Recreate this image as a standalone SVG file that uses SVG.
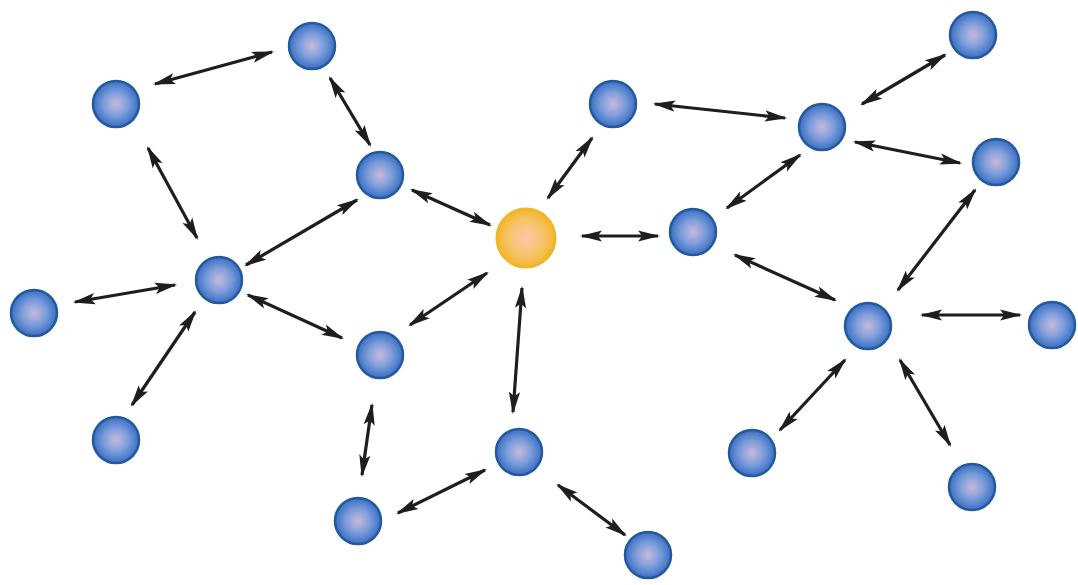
<svg xmlns="http://www.w3.org/2000/svg" width="1078" height="585" viewBox="0 0 1078 585">
<style>
.e{stroke:#1e1e1e;stroke-width:3.2;fill:none;marker-start:url(#ah);marker-end:url(#ah)}
.n{fill:url(#gb);stroke:#23599f;stroke-width:2.5}
.o{fill:url(#go);stroke:#f0b62a;stroke-width:3}
</style>
<defs>
<radialGradient id="gb" cx="0.5" cy="0.5" r="0.5">
<stop offset="0" stop-color="#c9b8da"/>
<stop offset="0.5" stop-color="#7f9fdc"/>
<stop offset="1" stop-color="#3a6fc2"/>
</radialGradient>
<radialGradient id="go" cx="0.5" cy="0.5" r="0.5">
<stop offset="0" stop-color="#fbc7a8"/>
<stop offset="0.6" stop-color="#f8c36a"/>
<stop offset="1" stop-color="#f5b52e"/>
</radialGradient>
<marker id="ah" viewBox="0 0 20 10" refX="18" refY="5" markerWidth="7" markerHeight="3.8" markerUnits="strokeWidth" orient="auto-start-reverse">
<path d="M0,0 L20,5 L0,10 L4,5 Z" fill="#1e1e1e"/>
</marker>
</defs>
<g id="connectors">
<line class="e" x1="155" y1="84" x2="272" y2="52"/>
<line class="e" x1="330" y1="78" x2="370" y2="145"/>
<line class="e" x1="148" y1="148" x2="197" y2="238"/>
<line class="e" x1="357" y1="200" x2="246" y2="265"/>
<line class="e" x1="412" y1="190" x2="490" y2="225"/>
<line class="e" x1="75" y1="302" x2="175" y2="285"/>
<line class="e" x1="195" y1="312" x2="132" y2="405"/>
<line class="e" x1="248" y1="295" x2="342" y2="338"/>
<line class="e" x1="410" y1="325" x2="487" y2="273"/>
<line class="e" x1="372" y1="405" x2="362" y2="475"/>
<line class="e" x1="548" y1="198" x2="592" y2="138"/>
<line class="e" x1="582" y1="236" x2="658" y2="236"/>
<line class="e" x1="522" y1="288" x2="513" y2="412"/>
<line class="e" x1="398" y1="513" x2="485" y2="470"/>
<line class="e" x1="558" y1="485" x2="625" y2="535"/>
<line class="e" x1="655" y1="104" x2="785" y2="118"/>
<line class="e" x1="862" y1="104" x2="945" y2="55"/>
<line class="e" x1="727" y1="208" x2="800" y2="155"/>
<line class="e" x1="855" y1="142" x2="960" y2="163"/>
<line class="e" x1="975" y1="190" x2="898" y2="290"/>
<line class="e" x1="735" y1="255" x2="835" y2="300"/>
<line class="e" x1="922" y1="315" x2="1020" y2="315"/>
<line class="e" x1="780" y1="430" x2="845" y2="360"/>
<line class="e" x1="900" y1="360" x2="950" y2="445"/>
</g>
<g id="n1"><circle class="n" cx="312" cy="46" r="23"/></g>
<g id="n2"><circle class="n" cx="116" cy="104" r="23"/></g>
<g id="n3"><circle class="n" cx="380" cy="175" r="23"/></g>
<g id="n4"><circle class="n" cx="613" cy="104" r="23"/></g>
<g id="n5"><circle class="n" cx="822" cy="127" r="23"/></g>
<g id="n6"><circle class="n" cx="973" cy="35" r="23"/></g>
<g id="n7"><circle class="n" cx="996" cy="162" r="23"/></g>
<g id="n8"><circle class="o" cx="526" cy="238" r="29"/></g>
<g id="n9"><circle class="n" cx="693" cy="232" r="23"/></g>
<g id="n10"><circle class="n" cx="219" cy="280" r="23"/></g>
<g id="n11"><circle class="n" cx="34" cy="313" r="23"/></g>
<g id="n12"><circle class="n" cx="380" cy="355" r="23"/></g>
<g id="n13"><circle class="n" cx="868" cy="326" r="23"/></g>
<g id="n14"><circle class="n" cx="1052" cy="325" r="23"/></g>
<g id="n15"><circle class="n" cx="116" cy="440" r="23"/></g>
<g id="n16"><circle class="n" cx="519" cy="452" r="23"/></g>
<g id="n17"><circle class="n" cx="752" cy="453" r="23"/></g>
<g id="n18"><circle class="n" cx="972" cy="487" r="23"/></g>
<g id="n19"><circle class="n" cx="358" cy="521" r="23"/></g>
<g id="n20"><circle class="n" cx="648" cy="555" r="23"/></g>
</svg>
